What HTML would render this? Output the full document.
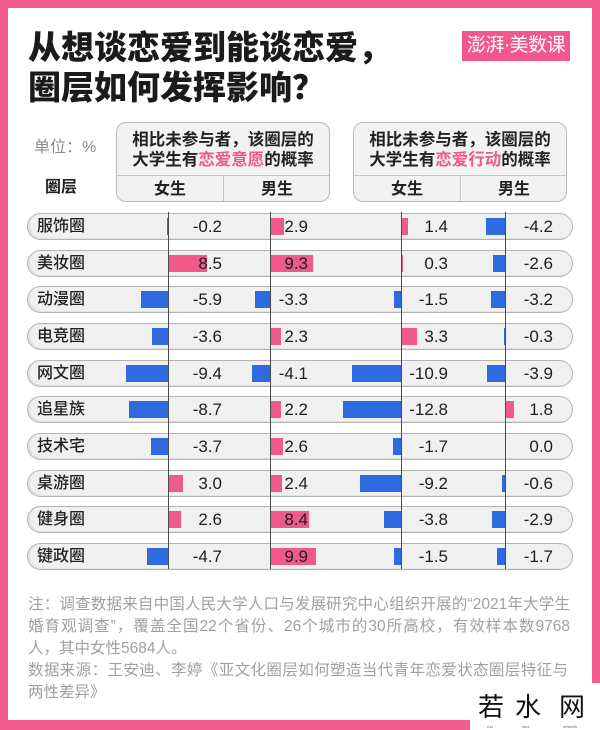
<!DOCTYPE html>
<html><head><meta charset="utf-8">
<style>
*{margin:0;padding:0;box-sizing:border-box}
html,body{width:600px;height:730px;overflow:hidden;background:#f35c8e}
body{position:relative;font-family:"Liberation Sans","Noto Sans CJK SC",sans-serif;color:#1e1e1e}
.card{position:absolute;left:8px;top:8px;width:584px;height:712px;background:#fff}
.patch{position:absolute;left:470px;top:683px;width:130px;height:47px;background:#fff}
.abs{position:absolute}
.title{left:28px;top:28px;font-size:33px;line-height:40px;font-weight:900;color:#1b1b1b;white-space:nowrap;letter-spacing:0px}
.logo{left:462px;top:31px;width:108px;height:30px;background:#f0588b;color:#fff;font-size:19px;line-height:30px;text-align:center;letter-spacing:-0.5px;white-space:nowrap}
.unit{left:34px;top:137px;font-size:16px;line-height:22px;color:#8c8c8c;white-space:nowrap}
.qc{left:45px;top:177px;font-size:16px;line-height:22px;font-weight:700;color:#222;white-space:nowrap}
.hbox{position:absolute;top:122px;width:214px;height:80px;border:1px solid #b9b9b9;border-radius:10px;background:#f2f2f2;overflow:hidden}
.hbox .t{position:absolute;left:0;top:8px;width:100%;text-align:center;font-size:16.5px;line-height:19.5px;font-weight:700;color:#222;white-space:nowrap}
.hbox .t span{color:#f0588b}
.hbox .hl{position:absolute;left:0;top:52px;width:100%;height:1px;background:#c4c4c4}
.hbox .vl{position:absolute;left:106px;top:52px;width:1px;height:28px;background:#c4c4c4}
.hbox .g{position:absolute;top:53px;height:27px;line-height:27px;width:106px;text-align:center;font-size:16px;font-weight:700;color:#222}
.row{position:absolute;left:0;width:600px;height:27px}
.pill{position:absolute;left:27px;top:0;width:546px;height:27px;border:1px solid #b4b4b4;border-radius:14px;background:#f0f0f0;box-shadow:inset 2px -1px 0 #e2e2e2}
.lab{position:absolute;left:37px;top:0;line-height:27px;font-size:16px;font-weight:500;color:#222;white-space:nowrap}
.bar{position:absolute;top:5px;height:17px}
.p{background:#ef5a8b}
.b{background:#2e6be0}
.v{position:absolute;top:0;width:64px;text-align:right;line-height:27px;font-size:17px;color:#1e1e1e;z-index:3}
.c1{left:158px}.c2{left:244px}.c3{left:384px}.c4{left:489px}
.axis{position:absolute;top:212px;width:1px;height:357px;background:#4a4a4a;z-index:2}
.note{position:absolute;left:28px;font-size:15.5px;line-height:22px;color:#a0a0a0;white-space:nowrap}
.j{width:542px;text-align:justify;text-align-last:justify}
.wm{position:absolute;top:692px;font-size:26px;line-height:30px;color:#111;font-weight:400}
.wms{position:absolute;top:724px;font-size:4px;line-height:5px;color:#666}
</style></head><body>
<div class="card"></div>
<div class="patch"></div>

<div class="abs title">从想谈恋爱到能谈恋爱，<br>圈层如何发挥影响？</div>
<div class="abs logo">澎湃·美数课</div>

<div class="abs unit">单位：%</div>
<div class="abs qc">圈层</div>

<div class="hbox" style="left:116px">
  <div class="t">相比未参与者，该圈层的<br>大学生有<span>恋爱意愿</span>的概率</div>
  <div class="hl"></div><div class="vl"></div>
  <div class="g" style="left:0">女生</div><div class="g" style="left:107px">男生</div>
</div>
<div class="hbox" style="left:353px">
  <div class="t">相比未参与者，该圈层的<br>大学生有<span>恋爱行动</span>的概率</div>
  <div class="hl"></div><div class="vl"></div>
  <div class="g" style="left:0">女生</div><div class="g" style="left:107px">男生</div>
</div>

<!-- rows -->
<div class="row" style="top:213px"><div class="pill"></div><div class="lab">服饰圈</div>
<div class="bar b" style="left:167.1px;width:0.9px"></div><div class="bar p" style="left:271px;width:13.05px"></div><div class="bar p" style="left:402px;width:6.3px"></div><div class="bar b" style="left:486.1px;width:18.9px"></div>
<div class="v c1">-0.2</div><div class="v c2">2.9</div><div class="v c3">1.4</div><div class="v c4">-4.2</div></div>

<div class="row" style="top:250px"><div class="pill"></div><div class="lab">美妆圈</div>
<div class="bar p" style="left:169px;width:38.25px"></div><div class="bar p" style="left:271px;width:41.85px"></div><div class="bar p" style="left:402px;width:1.35px"></div><div class="bar b" style="left:493.3px;width:11.7px"></div>
<div class="v c1">8.5</div><div class="v c2">9.3</div><div class="v c3">0.3</div><div class="v c4">-2.6</div></div>

<div class="row" style="top:286px"><div class="pill"></div><div class="lab">动漫圈</div>
<div class="bar b" style="left:141.45px;width:26.55px"></div><div class="bar b" style="left:255.15px;width:14.85px"></div><div class="bar b" style="left:394.25px;width:6.75px"></div><div class="bar b" style="left:490.6px;width:14.4px"></div>
<div class="v c1">-5.9</div><div class="v c2">-3.3</div><div class="v c3">-1.5</div><div class="v c4">-3.2</div></div>

<div class="row" style="top:323px"><div class="pill"></div><div class="lab">电竞圈</div>
<div class="bar b" style="left:151.8px;width:16.2px"></div><div class="bar p" style="left:271px;width:10.35px"></div><div class="bar p" style="left:402px;width:14.85px"></div><div class="bar b" style="left:503.65px;width:1.35px"></div>
<div class="v c1">-3.6</div><div class="v c2">2.3</div><div class="v c3">3.3</div><div class="v c4">-0.3</div></div>

<div class="row" style="top:360px"><div class="pill"></div><div class="lab">网文圈</div>
<div class="bar b" style="left:125.7px;width:42.3px"></div><div class="bar b" style="left:251.55px;width:18.45px"></div><div class="bar b" style="left:351.95px;width:49.05px"></div><div class="bar b" style="left:487.45px;width:17.55px"></div>
<div class="v c1">-9.4</div><div class="v c2">-4.1</div><div class="v c3">-10.9</div><div class="v c4">-3.9</div></div>

<div class="row" style="top:396px"><div class="pill"></div><div class="lab">追星族</div>
<div class="bar b" style="left:128.85px;width:39.15px"></div><div class="bar p" style="left:271px;width:9.9px"></div><div class="bar b" style="left:343.4px;width:57.6px"></div><div class="bar p" style="left:506px;width:8.1px"></div>
<div class="v c1">-8.7</div><div class="v c2">2.2</div><div class="v c3">-12.8</div><div class="v c4">1.8</div></div>

<div class="row" style="top:433px"><div class="pill"></div><div class="lab">技术宅</div>
<div class="bar b" style="left:151.35px;width:16.65px"></div><div class="bar p" style="left:271px;width:11.7px"></div><div class="bar b" style="left:393.35px;width:7.65px"></div>
<div class="v c1">-3.7</div><div class="v c2">2.6</div><div class="v c3">-1.7</div><div class="v c4">0.0</div></div>

<div class="row" style="top:470px"><div class="pill"></div><div class="lab">桌游圈</div>
<div class="bar p" style="left:169px;width:13.5px"></div><div class="bar p" style="left:271px;width:10.8px"></div><div class="bar b" style="left:359.6px;width:41.4px"></div><div class="bar b" style="left:502.3px;width:2.7px"></div>
<div class="v c1">3.0</div><div class="v c2">2.4</div><div class="v c3">-9.2</div><div class="v c4">-0.6</div></div>

<div class="row" style="top:506px"><div class="pill"></div><div class="lab">健身圈</div>
<div class="bar p" style="left:169px;width:11.7px"></div><div class="bar p" style="left:271px;width:37.8px"></div><div class="bar b" style="left:383.9px;width:17.1px"></div><div class="bar b" style="left:491.95px;width:13.05px"></div>
<div class="v c1">2.6</div><div class="v c2">8.4</div><div class="v c3">-3.8</div><div class="v c4">-2.9</div></div>

<div class="row" style="top:543px"><div class="pill"></div><div class="lab">键政圈</div>
<div class="bar b" style="left:146.85px;width:21.15px"></div><div class="bar p" style="left:271px;width:44.55px"></div><div class="bar b" style="left:394.25px;width:6.75px"></div><div class="bar b" style="left:497.35px;width:7.65px"></div>
<div class="v c1">-4.7</div><div class="v c2">9.9</div><div class="v c3">-1.5</div><div class="v c4">-1.7</div></div>

<div class="axis" style="left:168px"></div>
<div class="axis" style="left:270px"></div>
<div class="axis" style="left:401px"></div>
<div class="axis" style="left:505px"></div>

<div class="note j" style="top:594px">注：调查数据来自中国人民大学人口与发展研究中心组织开展的“2021年大学生</div>
<div class="note j" style="top:616px">婚育观调查”，覆盖全国22个省份、26个城市的30所高校，有效样本数9768</div>
<div class="note" style="top:638px">人，其中女性5684人。</div>
<div class="note j" style="top:660px;width:540px">数据来源：王安迪、李婷《亚文化圈层如何塑造当代青年恋爱状态圈层特征与</div>
<div class="note" style="top:682px">两性差异》</div>

<div class="wm" style="left:478px">若</div>
<div class="wm" style="left:515px">水</div>
<div class="wm" style="left:559px">网</div>
<div class="wms" style="left:487px">ruo</div>
<div class="wms" style="left:522px">shui</div>
<div class="wms" style="left:563px">network</div>
</body></html>
